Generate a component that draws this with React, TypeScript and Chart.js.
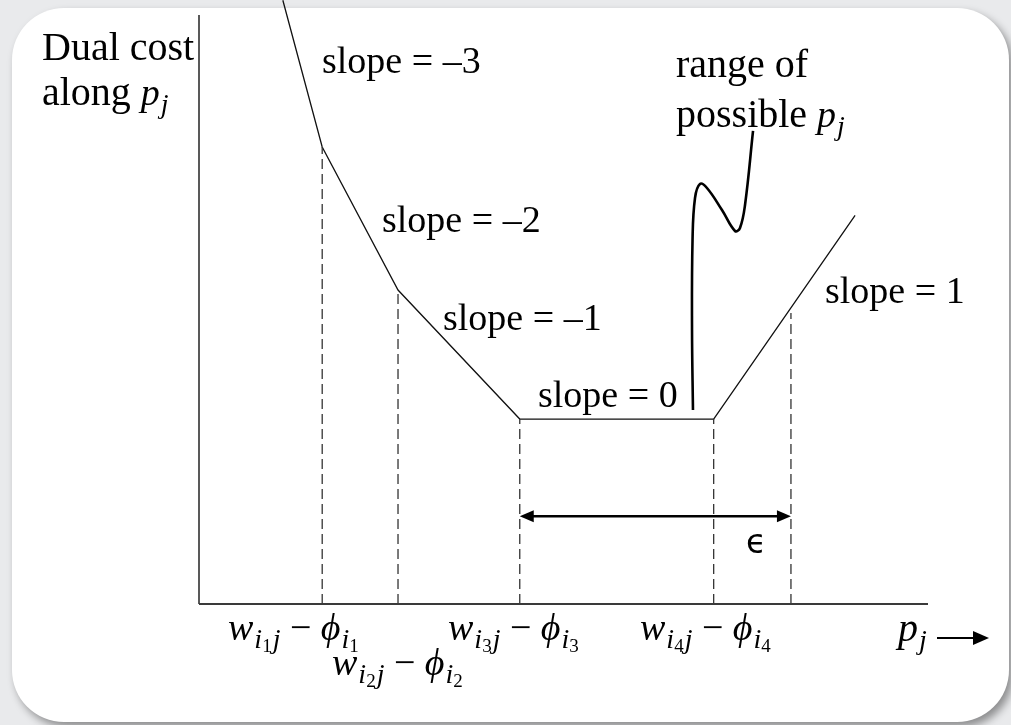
import React, { useEffect, useRef } from "react";
import { Chart, registerables } from "chart.js";

Chart.register(...registerables);

// ---- data (chart units: x 0..100 along p_j, y 0..100 dual cost) ----
const curveX = [11.5, 16.9, 27.3, 44.0, 70.6, 90.0];
const curveY = [102.5, 77.6, 53.3, 31.4, 31.4, 66.0];
const dashX = [16.9, 27.3, 44.0, 70.6, 81.2];
const dashTopY = [77.6, 53.3, 31.4, 31.4, 49.4];
const squiggleX = [67.76, 67.63, 67.7, 68.04, 68.72, 69.68, 71.74, 73.53, 74.21, 74.9, 76.0];
const squiggleY = [32.94, 46.52, 61.8, 68.93, 71.31, 70.63, 66.89, 63.33, 63.84, 67.74, 80.31];
const epsilonFrom = 44.0;
const epsilonTo = 81.2;
const epsilonArrowY = 14.9;
const slopeLabels = ["slope = \u20133", "slope = \u20132", "slope = \u20131", "slope = 0", "slope = 1"];
const breakpointIdx = [1, 2, 3, 4];

const SERIF = '"Liberation Serif", "Times New Roman", serif';

type Part = { t: string; s: number; i?: boolean; dy?: number; gap?: number; f?: string };

function drawParts(ctx: CanvasRenderingContext2D, x: number, y: number, parts: Part[]) {
  let cx = x;
  for (const p of parts) {
    ctx.font = `${p.i ? "italic " : ""}${p.s}px ${p.f || SERIF}`;
    ctx.fillText(p.t, cx, y + (p.dy || 0));
    cx += ctx.measureText(p.t).width + (p.gap || 0);
  }
  return cx;
}

function wLabel(k: number): Part[] {
  return [
    { t: "w", s: 38, i: true, gap: 1 },
    { t: "i", s: 28, i: true, dy: 8 },
    { t: String(k), s: 19, dy: 12, gap: 1 },
    { t: "j", s: 28, i: true, dy: 8 },
    { t: " \u2212 ", s: 38 },
    { t: "\u03D5", s: 38, i: true, gap: 1 },
    { t: "i", s: 28, i: true, dy: 8 },
    { t: String(k), s: 19, dy: 12 },
  ];
}

const labelPlugin = {
  id: "labels",
  afterDatasetsDraw(chart: any) {
    const ctx: CanvasRenderingContext2D = chart.ctx;
    const xs = chart.scales.x;
    const ys = chart.scales.y;
    ctx.save();
    ctx.fillStyle = "#000";
    ctx.textBaseline = "alphabetic";
    ctx.textAlign = "left";

    // y-axis title
    drawParts(ctx, 42, 60, [{ t: "Dual cost", s: 40 }]);
    drawParts(ctx, 42, 105, [
      { t: "along ", s: 40 },
      { t: "p", s: 38, i: true, gap: 1 },
      { t: "j", s: 28, i: true, dy: 8 },
    ]);

    // slope labels
    const slopePos: [number, number][] = [
      [322, 73],
      [382, 232],
      [443, 330],
      [538, 407],
      [825, 303],
    ];
    slopeLabels.forEach((s, k) => {
      drawParts(ctx, slopePos[k][0], slopePos[k][1], [{ t: s, s: 38 }]);
    });

    // range of possible p_j
    drawParts(ctx, 676, 77, [{ t: "range of", s: 40 }]);
    drawParts(ctx, 676, 127, [
      { t: "possible ", s: 40 },
      { t: "p", s: 38, i: true, gap: 1 },
      { t: "j", s: 28, i: true, dy: 8 },
    ]);

    // breakpoint labels
    const bp: [number, number][] = [
      [228, 640],
      [332, 675],
      [448, 640],
      [640, 640],
    ];
    breakpointIdx.forEach((k, n) => drawParts(ctx, bp[n][0], bp[n][1], wLabel(k)));

    // p_j -> label
    drawParts(ctx, 898, 641, [
      { t: "p", s: 40, i: true, gap: 1 },
      { t: "j", s: 28, i: true, dy: 8 },
    ]);
    ctx.strokeStyle = "#000";
    ctx.lineWidth = 2;
    ctx.beginPath();
    ctx.moveTo(937, 638);
    ctx.lineTo(976, 638);
    ctx.stroke();
    ctx.beginPath();
    ctx.moveTo(989, 638);
    ctx.lineTo(973, 631);
    ctx.lineTo(973, 645);
    ctx.closePath();
    ctx.fill();

    // epsilon double arrow
    const x1 = xs.getPixelForValue(epsilonFrom);
    const x2 = xs.getPixelForValue(epsilonTo);
    const ay = ys.getPixelForValue(epsilonArrowY);
    const ah = 14;
    ctx.lineWidth = 2.5;
    ctx.beginPath();
    ctx.moveTo(x1 + ah - 2, ay);
    ctx.lineTo(x2 - ah + 2, ay);
    ctx.stroke();
    ctx.beginPath();
    ctx.moveTo(x1, ay);
    ctx.lineTo(x1 + ah, ay - 6);
    ctx.lineTo(x1 + ah, ay + 6);
    ctx.closePath();
    ctx.fill();
    ctx.beginPath();
    ctx.moveTo(x2, ay);
    ctx.lineTo(x2 - ah, ay - 6);
    ctx.lineTo(x2 - ah, ay + 6);
    ctx.closePath();
    ctx.fill();

    drawParts(ctx, 746, 553, [{ t: "\u03F5", s: 33, f: '"DejaVu Sans", sans-serif' }]);
    ctx.restore();
  },
};

export default function App() {
  const ref = useRef<HTMLCanvasElement | null>(null);
  useEffect(() => {
    if (!ref.current) return;
    const line = (data: { x: number; y: number }[], extra: any) => ({
      data,
      showLine: true,
      pointRadius: 0,
      fill: false,
      clip: false,
      borderColor: "#111",
      borderWidth: 1.3,
      tension: 0,
      ...extra,
    });
    const datasets: any[] = [
      line(
        [
          { x: 0, y: 0 },
          { x: 100, y: 0 },
        ],
        { borderColor: "#3a3a3a", borderWidth: 1.8 }
      ),
      line(
        [
          { x: 0, y: 0 },
          { x: 0, y: 100 },
        ],
        { borderColor: "#222", borderWidth: 1.5 }
      ),
      ...dashX.map((x, k) =>
        line(
          [
            { x, y: 0 },
            { x, y: dashTopY[k] },
          ],
          { borderDash: [10, 5], borderColor: "#333", borderWidth: 1.3 }
        )
      ),
      line(
        curveX.map((x, k) => ({ x, y: curveY[k] })),
        { borderColor: "#111", borderWidth: 1.3 }
      ),
      line(
        squiggleX.map((x, k) => ({ x, y: squiggleY[k] })),
        { borderColor: "#000", borderWidth: 2.6, tension: 0.4 }
      ),
    ];
    const chart = new Chart(ref.current, {
      type: "scatter",
      data: { datasets },
      options: {
        responsive: false,
        devicePixelRatio: 1,
        animation: false,
        events: [],
        layout: { padding: { left: 199, right: 83, top: 15, bottom: 121 } },
        scales: {
          x: { type: "linear", min: 0, max: 100, display: false },
          y: { type: "linear", min: 0, max: 100, display: false },
        },
        plugins: { legend: { display: false }, tooltip: { enabled: false } },
      },
      plugins: [labelPlugin],
    } as any);
    return () => chart.destroy();
  }, []);

  return (
    <div style={{ position: "fixed", left: 0, top: 0, width: 1011, height: 725, background: "#e9eaec", overflow: "hidden" }}>
      <div
        style={{
          position: "absolute",
          left: 12,
          top: 8,
          width: 997,
          height: 714,
          borderRadius: 52,
          background: "#fff",
          boxShadow: "4px 5px 8px rgba(0,0,0,0.4)",
        }}
      />
      <canvas ref={ref} width={1011} height={725} style={{ position: "absolute", left: 0, top: 0, width: 1011, height: 725 }} />
    </div>
  );
}
